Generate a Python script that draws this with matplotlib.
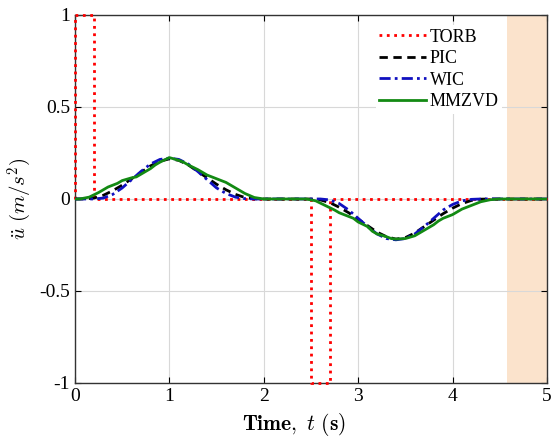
import numpy as np
import matplotlib
matplotlib.use('Agg')
import matplotlib.pyplot as plt
from matplotlib.ticker import FormatStrFormatter

plt.rcParams['font.family'] = ['Liberation Serif', 'DejaVu Serif']
plt.rcParams['mathtext.fontset'] = 'cm'
plt.rcParams['axes.unicode_minus'] = False

# TORB (pulsos rectangulares)
t_torb = [0, 0, 0.2, 0.2, 2.5, 2.5, 2.7, 2.7, 5]
u_torb = [0, 1, 1, 0, 0, -1, -1, 0, 0]

# PIC
t_pic = [0, 0.1, 0.2, 0.3, 0.4, 0.5, 0.6, 0.7, 0.8, 0.9, 1.0, 1.1, 1.2, 1.3, 1.4, 1.5, 1.6, 1.7, 1.8, 1.9, 2.0,
         2.5, 2.6, 2.7, 2.8, 2.9, 3.0, 3.1, 3.2, 3.3, 3.4, 3.5, 3.6, 3.7, 3.8, 3.9, 4.0, 4.1, 4.2, 4.3, 4.4, 5]
u_pic = [0, 0, 0.005, 0.02, 0.045, 0.075, 0.11, 0.145, 0.18, 0.205, 0.218, 0.21, 0.185, 0.15, 0.115, 0.08, 0.05, 0.025, 0.008, 0.001, 0,
         0, -0.005, -0.02, -0.045, -0.075, -0.11, -0.145, -0.18, -0.205, -0.218, -0.21, -0.185, -0.15, -0.115, -0.08, -0.05, -0.025, -0.008, -0.001, 0, 0]

# WIC
t_wic = [0, 0.2, 0.3, 0.4, 0.5, 0.6, 0.7, 0.8, 0.9, 1.0, 1.1, 1.2, 1.3, 1.4, 1.5, 1.6, 1.7, 1.8, 1.9, 2.0,
         2.6, 2.7, 2.8, 2.9, 3.0, 3.1, 3.2, 3.3, 3.4, 3.5, 3.6, 3.7, 3.8, 3.9, 4.0, 4.1, 4.2, 4.3, 4.4, 5]
u_wic = [0, 0, 0.005, 0.025, 0.06, 0.105, 0.15, 0.19, 0.215, 0.222, 0.215, 0.19, 0.15, 0.105, 0.06, 0.03, 0.01, 0.002, 0, 0,
         0, -0.005, -0.025, -0.06, -0.105, -0.15, -0.19, -0.215, -0.222, -0.215, -0.19, -0.15, -0.105, -0.06, -0.03, -0.01, -0.002, 0, 0, 0]

# MMZVD
t_mm = [0, 0.05, 0.15, 0.25, 0.3, 0.35, 0.45, 0.5, 0.6, 0.65, 0.7, 0.8, 0.85, 0.9, 1.0, 1.1, 1.15, 1.2, 1.3, 1.35, 1.4,
        1.5, 1.55, 1.6, 1.7, 1.8, 1.9, 2.0,
        2.45, 2.55, 2.65, 2.75, 2.8, 2.85, 2.95, 3.0, 3.1, 3.15, 3.2, 3.3, 3.35, 3.4, 3.5, 3.6, 3.65, 3.7, 3.8, 3.85,
        3.9, 4.0, 4.05, 4.1, 4.2, 4.3, 4.4, 4.5, 5]
u_mm = [0, 0, 0.01, 0.035, 0.05, 0.065, 0.085, 0.1, 0.115, 0.12, 0.135, 0.165, 0.185, 0.2, 0.225, 0.21, 0.2, 0.185, 0.16, 0.145, 0.13,
        0.11, 0.1, 0.09, 0.06, 0.03, 0.008, 0,
        0, -0.01, -0.035, -0.06, -0.075, -0.085, -0.105, -0.125, -0.15, -0.175, -0.19, -0.205, -0.215, -0.218, -0.215, -0.2, -0.185, -0.17, -0.14, -0.12,
        -0.105, -0.085, -0.07, -0.055, -0.035, -0.015, -0.004, 0, 0]

fig = plt.figure(figsize=(5.53, 4.38), dpi=100)
ax = fig.add_axes([0.1356, 0.1256, 0.8534, 0.8402])

# zona sombreada al final
ax.axvspan(4.58, 5, color='#fbe3cc', lw=0, zorder=0)

ax.plot(t_torb, u_torb, color='red', linestyle=':', linewidth=2, label='TORB', clip_on=False, zorder=3)
ax.plot(t_pic, u_pic, color='black', linestyle=(0, (3, 2)), linewidth=2, label='PIC', zorder=4)
ax.plot(t_wic, u_wic, color='#1010c0', linestyle=(0, (4, 1.5, 1, 1.5)), linewidth=2, label='WIC', zorder=5)
ax.plot(t_mm, u_mm, color='#138a13', linestyle='-', linewidth=2, label='MMZVD', zorder=6)

ax.set_xlim(0, 5)
ax.set_ylim(-1, 1)
ax.set_xticks([0, 1, 2, 3, 4, 5])
ax.set_yticks([-1, -0.5, 0, 0.5, 1])
ax.yaxis.set_major_formatter(FormatStrFormatter('%g'))
ax.tick_params(direction='in', labelsize=14, length=4, top=True, right=True)
ax.grid(True, color='#d8d8d8', linewidth=0.8)
ax.set_axisbelow(True)
for s in ax.spines.values():
    s.set_linewidth(1.0)
    s.set_color('#333333')

ax.set_xlabel(r'$\mathbf{Time,}\ t\ \mathbf{(s)}$', fontsize=15.5)
ax.xaxis.set_label_coords(0.464, -0.075)
ax.set_ylabel(r'$\ddot{u}\ (m/s^2)$', fontsize=15)

leg = ax.legend(loc='upper right', bbox_to_anchor=(0.925, 0.997), frameon=True, fontsize=13,
                handlelength=2.6, handletextpad=0.2, labelspacing=0.25, borderpad=0.2)
leg.get_frame().set_edgecolor('none')
leg.get_frame().set_facecolor('white')
leg.get_frame().set_alpha(1)

fig.savefig('out.png', dpi=100)
